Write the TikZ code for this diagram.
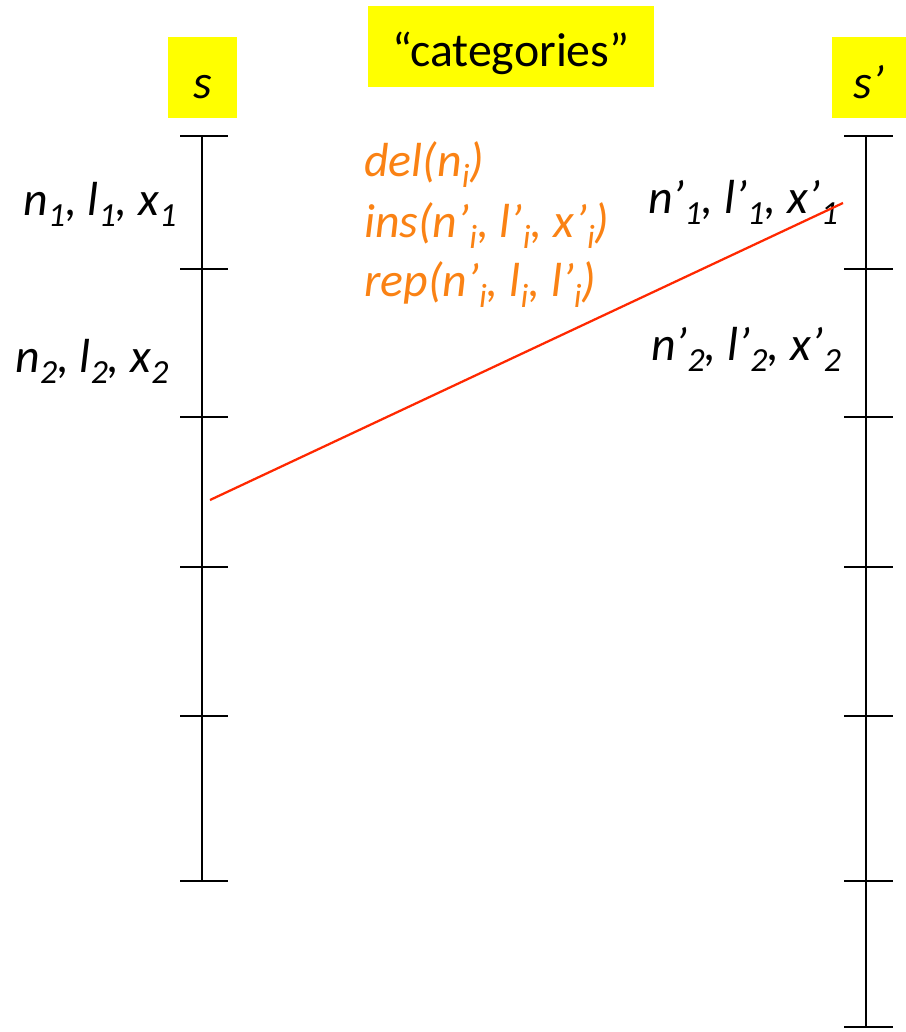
\documentclass[tikz,border=0pt]{standalone}
\usepackage{fontspec}
\setmainfont{Carlito}
\usetikzlibrary{positioning,calc}

\definecolor{hiyellow}{RGB}{255,255,0}
\definecolor{oporange}{RGB}{250,130,20}
\definecolor{matchred}{RGB}{255,40,0}

% lowered index, as on the slide
\newcommand{\idx}[1]{\raisebox{-8pt}{\fontsize{24}{24}\selectfont #1}}

\begin{document}
\begin{tikzpicture}[
  x=0.025cm, y=-0.025cm,
  %% Box styles
  head/.style  = {fill=hiyellow, inner sep=0pt, text depth=0pt,
                  font=\fontsize{34}{40}\selectfont},
  entry/.style = {anchor=base, inner sep=0pt,
                  font=\fontsize{34}{40}\selectfont\itshape},
  op/.style    = {anchor=base west, inner sep=0pt, text=oporange,
                  font=\fontsize{34}{40}\selectfont\itshape},
  axis/.style  = {line width=2pt},
  tick/.style  = {line width=1.6pt},
  match/.style = {line width=1.6pt, matchred},
]
\useasboundingbox (0,0) rectangle (906,1032);

%% ── Headings ───────────────────────────────────────────────────
\node[head, minimum width=49pt, minimum height=57pt, text height=30pt] (hs)
  at (202.5,77.5) {\itshape s};
\node[head, minimum width=204pt, minimum height=57pt, text height=28pt] (hcat)
  at (511,46.5) {“categories”};
\node[head, minimum width=52pt, minimum height=57pt, text height=30pt] (hsp)
  at (869,77.5) {\itshape s’};

%% ── Axes ───────────────────────────────────────────────────────
\coordinate (sTop) at (202,136);
\coordinate (sBot) at (202,881);
\coordinate (tTop) at (866,136);
\coordinate (tBot) at (866,1027);
\draw[axis] (sTop) -- (sBot);
\draw[axis] (tTop) -- (tBot);

\foreach \y in {136,269,417,567,716,881}
  \draw[tick] ($(sTop|-0,\y)+(-22,0)$) -- ++(48,0);
\foreach \y in {136,269,417,567,716,881,1027}
  \draw[tick] ($(tTop|-0,\y)+(-22,0)$) -- ++(49,0);

%% ── Entries ────────────────────────────────────────────────────
\node[entry] (e1) at (100,215) {n\idx{1}, l\idx{1}, x\idx{1}};
\node[entry] (e2) at (92,372) {n\idx{2}, l\idx{2}, x\idx{2}};
\node[entry] (f1) at (743,213) {n’\idx{1}, l’\idx{1}, x’\idx{1}};
\node[entry] (f2) at (746,360) {n’\idx{2}, l’\idx{2}, x’\idx{2}};

%% ── Operations ─────────────────────────────────────────────────
\node[op] (del) at (364,176) {del(n\idx{i})};
\node[op] (ins) at (364,237) {ins(n’\idx{i}, l’\idx{i}, x’\idx{i})};
\node[op] (rep) at (364,296) {rep(n’\idx{i}, l\idx{i}, l’\idx{i})};

%% ── Matching line ──────────────────────────────────────────────
\coordinate (cut) at (210,500);
\coordinate (hit) at (843,203);
\draw[match] (cut) -- (hit);

\end{tikzpicture}
\end{document}
